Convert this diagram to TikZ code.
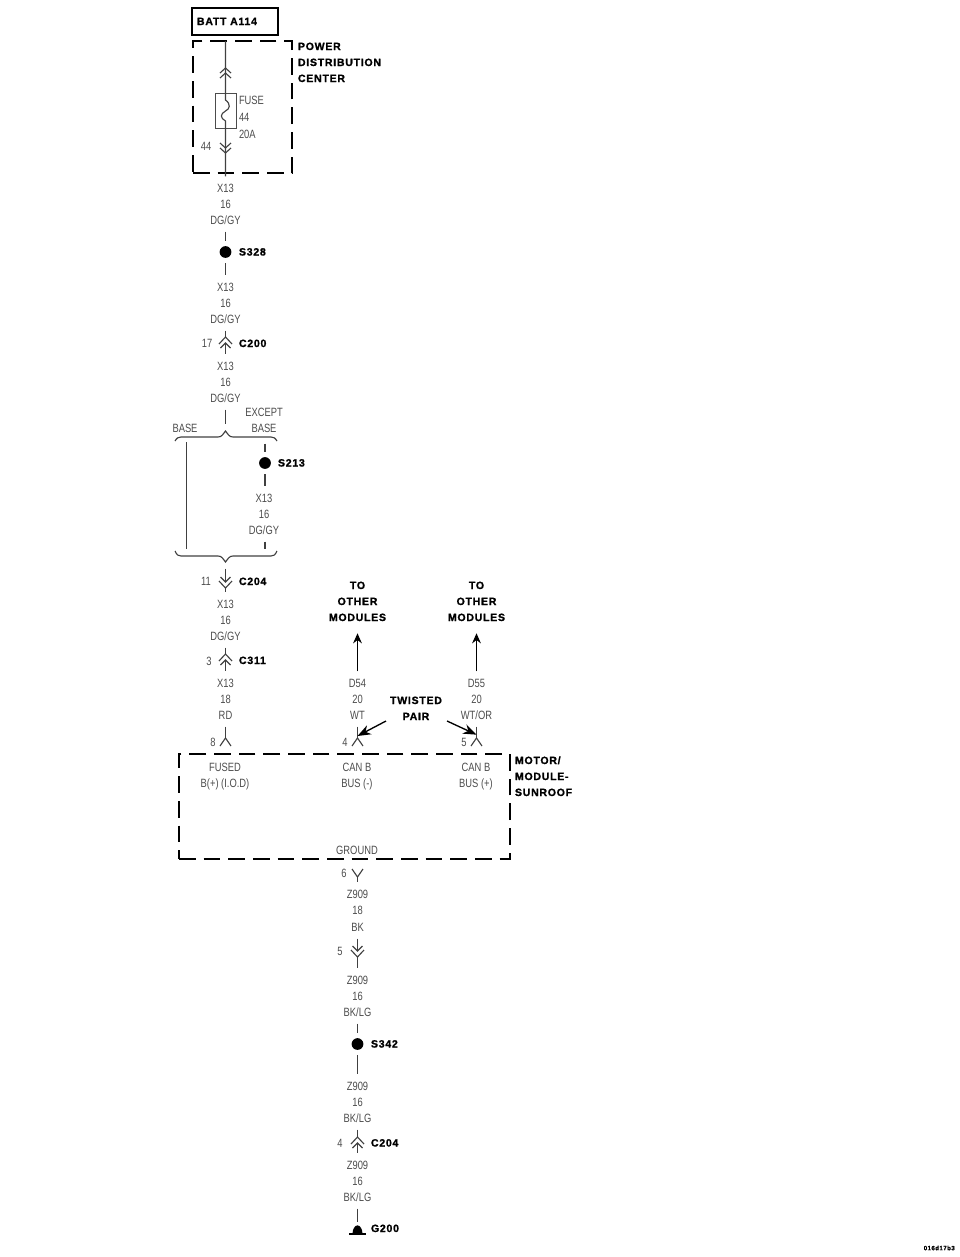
\documentclass[tikz,border=0pt]{standalone}
\usepackage{fontspec}
\setmainfont{Liberation Sans}[FakeStretch=0.78]
\newfontfamily\blf{Liberation Sans}[LetterSpace=7,BoldFeatures={FakeBold=1.2}]
\usetikzlibrary{arrows.meta}
\definecolor{labgray}{gray}{0.3}
\tikzset{
  lab/.style={inner xsep=0pt,inner ysep=5.7pt,outer sep=0pt,text height=6.2pt,text depth=0pt,text=labgray,
    font=\fontsize{9pt}{10pt}\selectfont},
  blab/.style={inner xsep=0pt,inner ysep=5.7pt,outer sep=0pt,text height=6pt,text depth=0pt,text=black,
    font=\blf\bfseries\fontsize{7.9pt}{10pt}\selectfont},
  ttag/.style={inner sep=0pt,text=black,font=\blf\bfseries\fontsize{4.6pt}{6pt}\selectfont},
  wire/.style={draw=black!75,line width=0.85pt},
  splice/.style={circle,fill=black,inner sep=0pt,minimum size=8.8pt,outer sep=4pt},
  dashbox/.style={draw=black,line width=1.2pt,dash pattern=on 12.5pt off 6pt,inner sep=0pt,outer sep=0pt},
  solidbox/.style={draw=black,line width=1.2pt,inner sep=0pt,outer sep=0pt},
  fusebox/.style={draw=black!70,line width=0.7pt,inner sep=0pt,outer sep=0pt,minimum width=15.75pt,minimum height=26.25pt},
  bigarrow/.style={draw=black,line width=1.2pt,-{Stealth[length=7.5pt,width=6.5pt]}},
  twarrow/.style={draw=black,line width=1pt,-{Stealth[length=10pt,width=7.5pt]}},
}
% connector glyphs at a named coordinate
\newcommand{\connup}[1]{\draw[wire,shift={(#1)}] (-6.5,1)--(0,-6)--(6.5,1) (-5,5)--(0,0)--(5,5);}
\newcommand{\conndown}[1]{\draw[wire,shift={(#1)}] (-6.5,-1)--(0,6)--(6.5,-1) (-5,-5)--(0,0)--(5,-5);}
\newcommand{\termup}[1]{\draw[wire,shift={(#1)}] (-5.5,8)--(0,0)--(5.5,8);}
\begin{document}
\begin{tikzpicture}[x=0.75pt,y=-0.75pt]
\useasboundingbox (0,0) rectangle (960,1257);

% --- boxes
\node[solidbox,minimum width=64.5pt,minimum height=20.25pt] (batt) at (235,21.5) {};
\node[blab,anchor=west] (batttxt) at (197,21) {BATT A114};
\node[dashbox,minimum width=74.25pt,minimum height=99pt] (pdc) at (242.5,107) {};
\node[blab,anchor=west] (pdc1) at (298,46) {POWER};
\node[blab,anchor=west] (pdc2) at (298,62) {DISTRIBUTION};
\node[blab,anchor=west] (pdc3) at (298,78) {CENTER};
\node[fusebox] (fuse) at (225.5,110.5) {};
\node[lab,anchor=west] (f1) at (239,100) {FUSE};
\node[lab,anchor=west] (f2) at (239,117) {44};
\node[lab,anchor=west] (f3) at (239,134) {20A};
\node[lab] (p44) at (206,146) {44};
\node[dashbox,minimum width=248.25pt,minimum height=78.75pt] (motor) at (344.5,806.5) {};
\node[blab,anchor=west] (m1) at (515,760) {MOTOR/};
\node[blab,anchor=west] (m2) at (515,776) {MODULE-};
\node[blab,anchor=west] (m3) at (515,792) {SUNROOF};

% --- first column labels
\node[lab] (a1) at (225.5,188) {X13};
\node[lab] (a2) at (225.5,204) {16};
\node[lab] (a3) at (225.5,220) {DG/GY};
\node[splice] (s328) at (225.5,252) {};
\node[blab,anchor=west] (s328t) at (239,251.5) {S328};
\node[lab] (b1) at (225.5,287) {X13};
\node[lab] (b2) at (225.5,303) {16};
\node[lab] (b3) at (225.5,319) {DG/GY};
\node[lab] (n17) at (207,343) {17};
\coordinate (c200) at (225.5,343);
\node[blab,anchor=west] (c200t) at (239,343) {C200};
\node[lab] (d1) at (225.5,366) {X13};
\node[lab] (d2) at (225.5,382) {16};
\node[lab] (d3) at (225.5,398) {DG/GY};
\node[lab] (base) at (185,428) {BASE};
\node[lab] (ex1) at (264,412) {EXCEPT};
\node[lab] (ex2) at (264,428) {BASE};
\node[splice] (s213) at (265,463) {};
\node[blab,anchor=west] (s213t) at (278,462.5) {S213};
\node[lab] (e1) at (264,498) {X13};
\node[lab] (e2) at (264,514) {16};
\node[lab] (e3) at (264,530) {DG/GY};
\node[lab] (n11) at (206,581) {11};
\coordinate (c204a) at (225.5,582);
\node[blab,anchor=west] (c204at) at (239,581) {C204};
\node[lab] (g1) at (225.5,604) {X13};
\node[lab] (g2) at (225.5,620) {16};
\node[lab] (g3) at (225.5,636) {DG/GY};
\node[lab] (n3) at (209,661) {3};
\coordinate (c311) at (225.5,660);
\node[blab,anchor=west] (c311t) at (239,660) {C311};
\node[lab] (h1) at (225.5,683) {X13};
\node[lab] (h2) at (225.5,699) {18};
\node[lab] (h3) at (225.5,715) {RD};
\node[lab] (n8) at (213,742) {8};
\coordinate (t8) at (225.5,738);

% --- CAN columns
\node[blab] (to1a) at (357.5,585) {TO};
\node[blab] (to1b) at (357.5,601) {OTHER};
\node[blab] (to1c) at (357.5,617) {MODULES};
\node[blab] (to2a) at (476.5,585) {TO};
\node[blab] (to2b) at (476.5,601) {OTHER};
\node[blab] (to2c) at (476.5,617) {MODULES};
\node[lab] (j1) at (357.5,683) {D54};
\node[lab] (j2) at (357.5,699) {20};
\node[lab] (j3) at (357.5,715) {WT};
\node[lab] (k1) at (476.5,683) {D55};
\node[lab] (k2) at (476.5,699) {20};
\node[lab] (k3) at (476.5,715) {WT/OR};
\node[lab] (n4) at (345,742) {4};
\node[lab] (n5) at (464,742) {5};
\coordinate (t4) at (357.5,738);
\coordinate (t5) at (476.5,738);
\node[blab] (tw1) at (416,700) {TWISTED};
\node[blab] (tw2) at (416,716) {PAIR};
\coordinate (twl) at (386,721);
\coordinate (twr) at (447,721);

% --- module pin labels
\node[lab] (pa1) at (225,767) {FUSED};
\node[lab] (pa2) at (225,783) {B(+) (I.O.D)};
\node[lab] (pb1) at (357,767) {CAN B};
\node[lab] (pb2) at (357,783) {BUS (-)};
\node[lab] (pc1) at (476,767) {CAN B};
\node[lab] (pc2) at (476,783) {BUS (+)};
\node[lab] (gnd) at (357,850) {GROUND};

% --- ground column
\node[lab] (n6) at (344,873) {6};
\coordinate (t6) at (357.5,877);
\node[lab] (q1) at (357.5,894) {Z909};
\node[lab] (q2) at (357.5,910) {18};
\node[lab] (q3) at (357.5,927) {BK};
\node[lab] (n5b) at (340,951) {5};
\coordinate (c5b) at (357.5,951);
\node[lab] (r1) at (357.5,980) {Z909};
\node[lab] (r2) at (357.5,996) {16};
\node[lab] (r3) at (357.5,1012) {BK/LG};
\node[splice] (s342) at (357.5,1044) {};
\node[blab,anchor=west] (s342t) at (371,1043.5) {S342};
\node[lab] (u1) at (357.5,1086) {Z909};
\node[lab] (u2) at (357.5,1102) {16};
\node[lab] (u3) at (357.5,1118) {BK/LG};
\node[lab] (n4b) at (340,1143) {4};
\coordinate (c204b) at (357.5,1143);
\node[blab,anchor=west] (c204bt) at (371,1142.5) {C204};
\node[lab] (v1) at (357.5,1165) {Z909};
\node[lab] (v2) at (357.5,1181) {16};
\node[lab] (v3) at (357.5,1197) {BK/LG};
\coordinate (gr) at (357.5,1234);
\node[blab,anchor=west] (g200t) at (371,1228) {G200};
\node[ttag,anchor=east] (tag) at (955,1248) {016d17b3};

% --- fuse wire
\draw[wire] (pdc.north -| fuse.center) -- (225.5,100)
  .. controls (231,104) and (230,109) .. (225.5,111)
  .. controls (220,114) and (220,118) .. (225.5,121) -- (a1.north);
\draw[wire,shift={(fuse.center)}] (-5.5,-37.5)--(0,-42.5)--(5.5,-37.5) (-5.5,-32.5)--(0,-37.5)--(5.5,-32.5);
\draw[wire,shift={(fuse.center)}] (-5.5,32.5)--(0,37.5)--(5.5,32.5) (-5.5,37.5)--(0,42.5)--(5.5,37.5);

% --- wires, first column
\draw[wire] (a3.south) -- (s328.north);
\draw[wire] (s328.south) -- (b1.north);
\draw[wire] (b3.south) -- ([yshift=4.5pt]c200);
\connup{c200}
\draw[wire] (c200) -- (d1.north);
\coordinate (brt) at (225.5,431);
\coordinate (brtw) at (225.5,424);
\draw[wire] (d3.south) -- (brtw);
\draw[wire] (175,441) .. controls (177,438) and (178,437) .. (181,437) -- (218,437)
  .. controls (222,437) and (223,434) .. (brt) .. controls (228,434) and (229,437) .. (233,437)
  -- (271,437) .. controls (274,437) and (275,438) .. (277,441);
\coordinate (brb) at (225.5,562);
\draw[wire] (175,551) .. controls (177,555) and (178,556) .. (181,556) -- (218,556)
  .. controls (222,556) and (223,559) .. (brb) .. controls (228,559) and (229,556) .. (233,556)
  -- (271,556) .. controls (274,556) and (275,555) .. (277,551);
\coordinate (basetop) at (186.5,442);
\coordinate (basebot) at (186.5,549);
\draw[wire] (basetop) -- (basebot);
\coordinate (exbot) at (265,549);
\draw[wire] ([yshift=-3pt]ex2.south -| s213.center) -- (s213.north);
\draw[wire] (s213.south) -- (e1.north -| s213.center);
\draw[wire] (e3.south -| s213.center) -- (exbot);
\draw[wire] ([yshift=10pt]c204a) -- (c204a);
\conndown{c204a}
\draw[wire] ([yshift=-4.5pt]c204a) -- (g1.north -| c204a);
\draw[wire] (g3.south) -- ([yshift=4.5pt]c311);
\connup{c311}
\draw[wire] (c311) -- (h1.north);
\draw[wire] (h3.south -| t8) -- (t8);
\termup{t8}

% --- CAN wires
\draw[wire] (j3.south -| t4) -- (t4);
\termup{t4}
\draw[wire] (k3.south -| t5) -- (t5);
\termup{t5}
\draw[bigarrow,shorten >=3.5pt] (j1.north) -- (to1c.south);
\draw[bigarrow,shorten >=3.5pt] (k1.north) -- (to2c.south);
\draw[twarrow] (twl) -- ([yshift=1.5pt]t4);
\draw[twarrow] (twr) -- ([yshift=2.5pt]t5);

% --- ground wires
\draw[wire,shift={(t6)}] (-5.5,-8)--(0,0)--(5.5,-8);
\draw[wire] (t6) -- (q1.north -| t6);
\draw[wire] (q3.south -| c5b) -- (c5b);
\conndown{c5b}
\draw[wire] ([yshift=-4.5pt]c5b) -- (r1.north -| c5b);
\draw[wire] (r3.south -| s342) -- (s342.north);
\draw[wire] (s342.south) -- (u1.north -| s342);
\draw[wire] (u3.south -| c204b) -- ([yshift=4.5pt]c204b);
\connup{c204b}
\draw[wire] (c204b) -- (v1.north -| c204b);
\draw[wire] (v3.south -| gr) -- ([yshift=9pt]gr);
\fill[shift={(gr)}] (-5,0) arc[start angle=180,end angle=0,x radius=3.75pt,y radius=6.5pt] -- cycle;
\draw[draw=black,line width=1.2pt,shift={(gr)}] (-8.5,0) -- (8.5,0);
\end{tikzpicture}
\end{document}
